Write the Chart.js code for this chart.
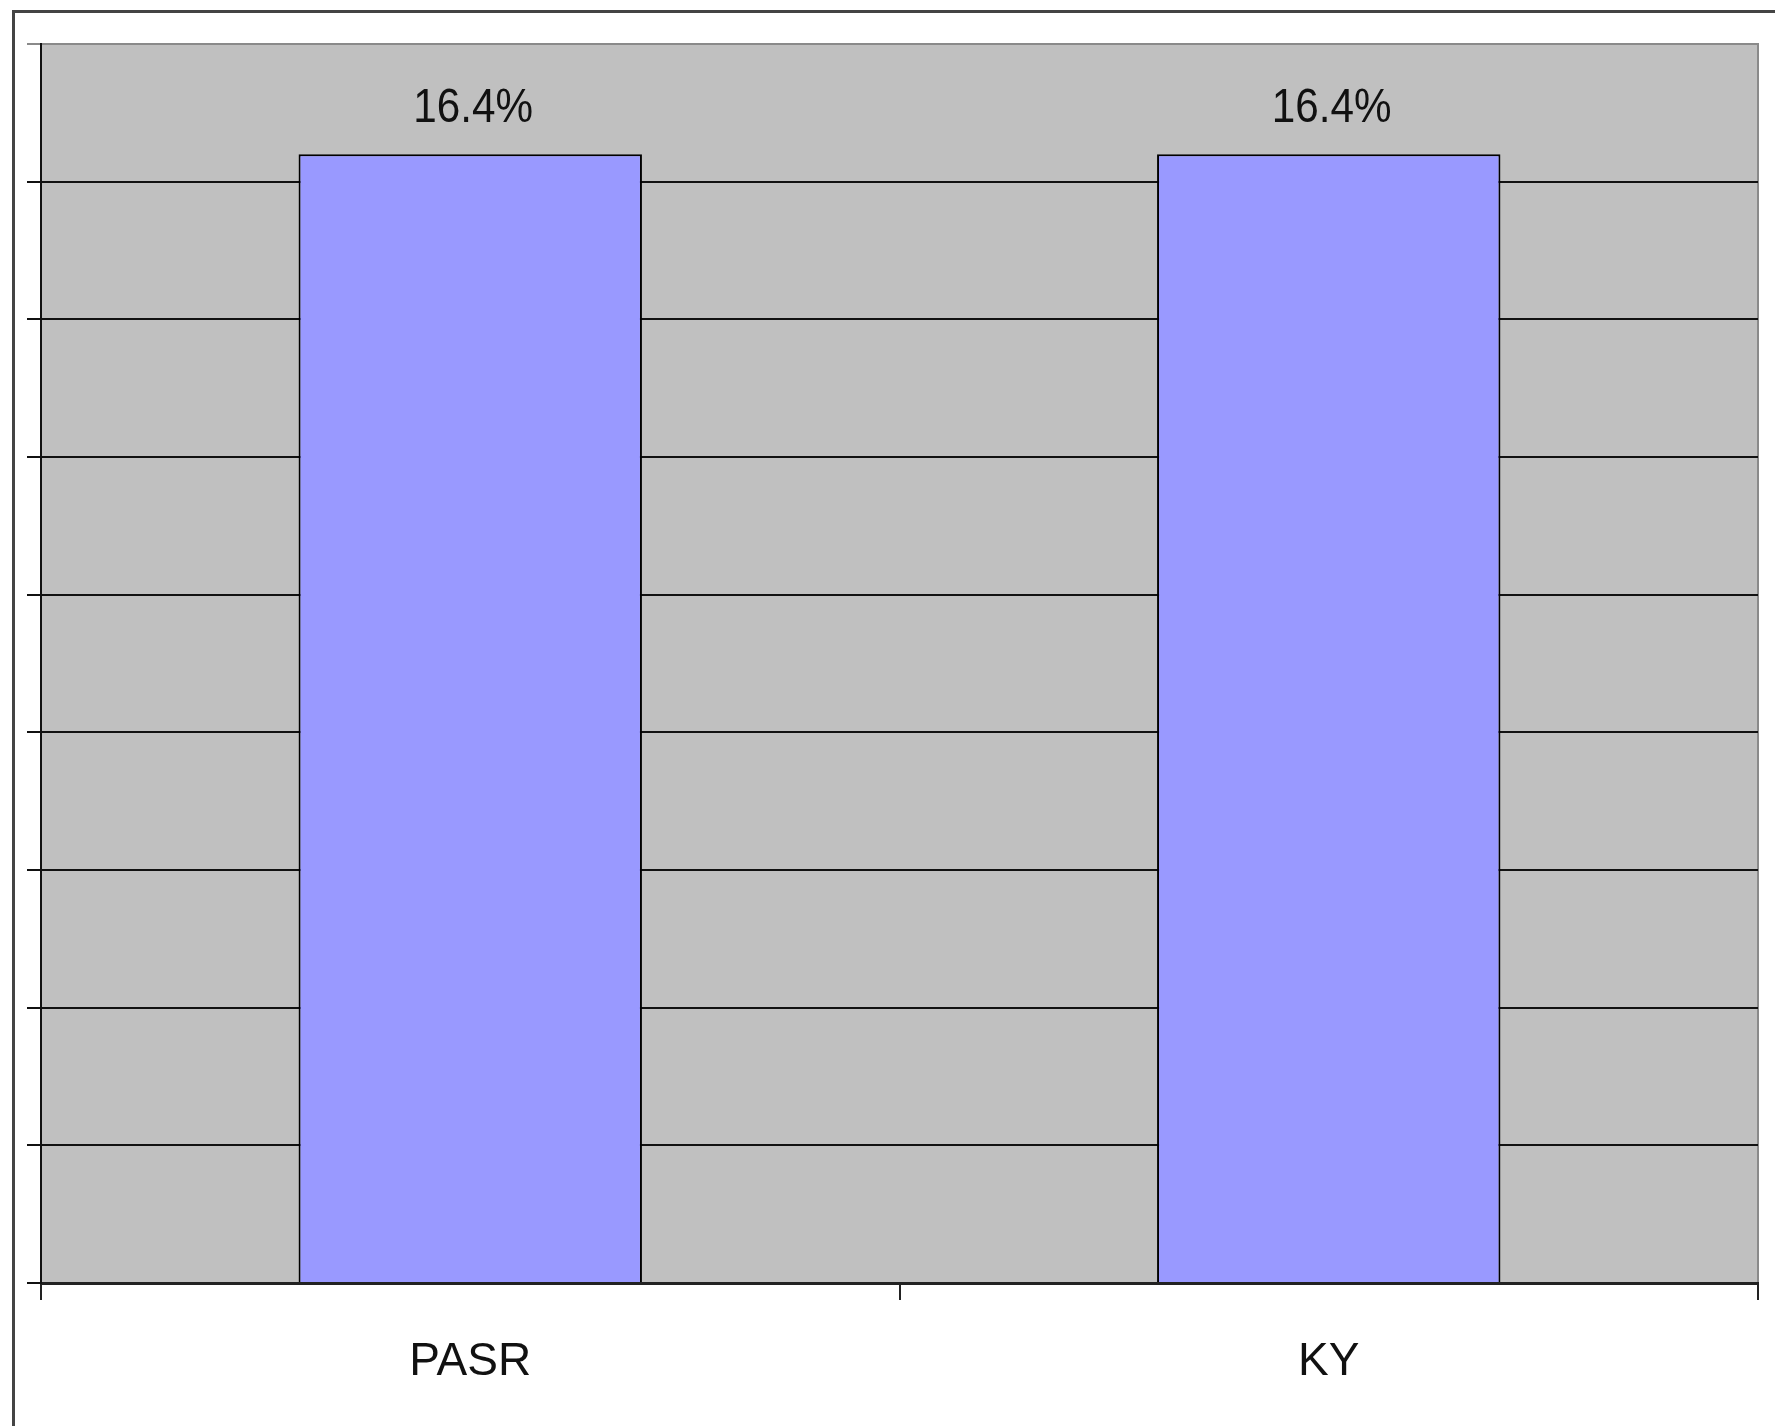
<!DOCTYPE html>
<html lang="en">
<head>
  <meta charset="UTF-8">
  <title>PASR vs KY</title>
  <style>
    html, body { margin: 0; padding: 0; background: #fff; }
    #wrap { width: 1775px; height: 1426px; position: relative; }
  </style>
</head>
<body>
<div id="wrap"><canvas id="barChart" width="1775" height="1426"></canvas></div>

<script src="https://cdn.jsdelivr.net/npm/chart.js"></script>
<script>
  const categories = ['PASR', 'KY'];
  const values = [16.4, 16.4];
  const yMax = 18;
  const yStep = 2;

  // grey plot area + outer frame
  const backdrop = {
    id: 'backdrop',
    beforeDraw(chart) {
      const { ctx, chartArea: a } = chart;
      ctx.save();
      ctx.fillStyle = '#c0c0c0';
      ctx.fillRect(a.left, a.top, a.right - a.left, a.bottom - a.top);
      ctx.strokeStyle = '#8a8a8a';
      ctx.lineWidth = 2;
      ctx.beginPath();
      ctx.moveTo(a.left, a.top);
      ctx.lineTo(a.right, a.top);
      ctx.lineTo(a.right, a.bottom);
      ctx.stroke();
      ctx.strokeStyle = '#444';
      ctx.lineWidth = 3;
      ctx.strokeRect(13.5, 11.5, 1800, 1500);
      ctx.restore();
    }
  };

  // value labels above the bars
  const valueLabels = {
    id: 'valueLabels',
    afterDatasetsDraw(chart) {
      const { ctx } = chart;
      const meta = chart.getDatasetMeta(0);
      ctx.save();
      ctx.fillStyle = '#111';
      ctx.font = '48px "Liberation Sans", Arial, sans-serif';
      ctx.textAlign = 'center';
      ctx.textBaseline = 'alphabetic';
      meta.data.forEach((bar, i) => {
        ctx.save();
        ctx.translate(bar.x + 3, bar.y - 32);
        ctx.scale(0.88, 1);
        ctx.fillText(values[i].toFixed(1) + '%', 0, 0);
        ctx.restore();
      });
      ctx.restore();
    }
  };

  new Chart(document.getElementById('barChart').getContext('2d'), {
    type: 'bar',
    data: {
      labels: categories,
      datasets: [{
        data: values,
        backgroundColor: '#9999ff',
        borderColor: '#000',
        borderWidth: 2,
        barPercentage: 0.4,
        categoryPercentage: 1.0
      }]
    },
    options: {
      responsive: false,
      animation: false,
      layout: { padding: { left: 27, top: 44, right: 17, bottom: 0 } },
      plugins: { legend: { display: false }, tooltip: { enabled: false } },
      scales: {
        x: {
          grid: { drawOnChartArea: false, color: '#222', tickLength: 17, lineWidth: 2 },
          border: { color: '#222', width: 3 },
          ticks: {
            color: '#111',
            padding: 35,
            font: { family: '"Liberation Sans", Arial, sans-serif', size: 46 }
          },
          afterFit(scale) { scale.height = 143; }
        },
        y: {
          min: 0,
          max: yMax,
          ticks: { display: false, stepSize: yStep },
          grid: {
            color: ctx => (ctx.tick && ctx.tick.value === yMax ? '#8a8a8a' : '#111'),
            lineWidth: 2,
            tickLength: 14
          },
          border: { color: '#111', width: 2 }
        }
      }
    },
    plugins: [backdrop, valueLabels]
  });
</script>
</body>
</html>
